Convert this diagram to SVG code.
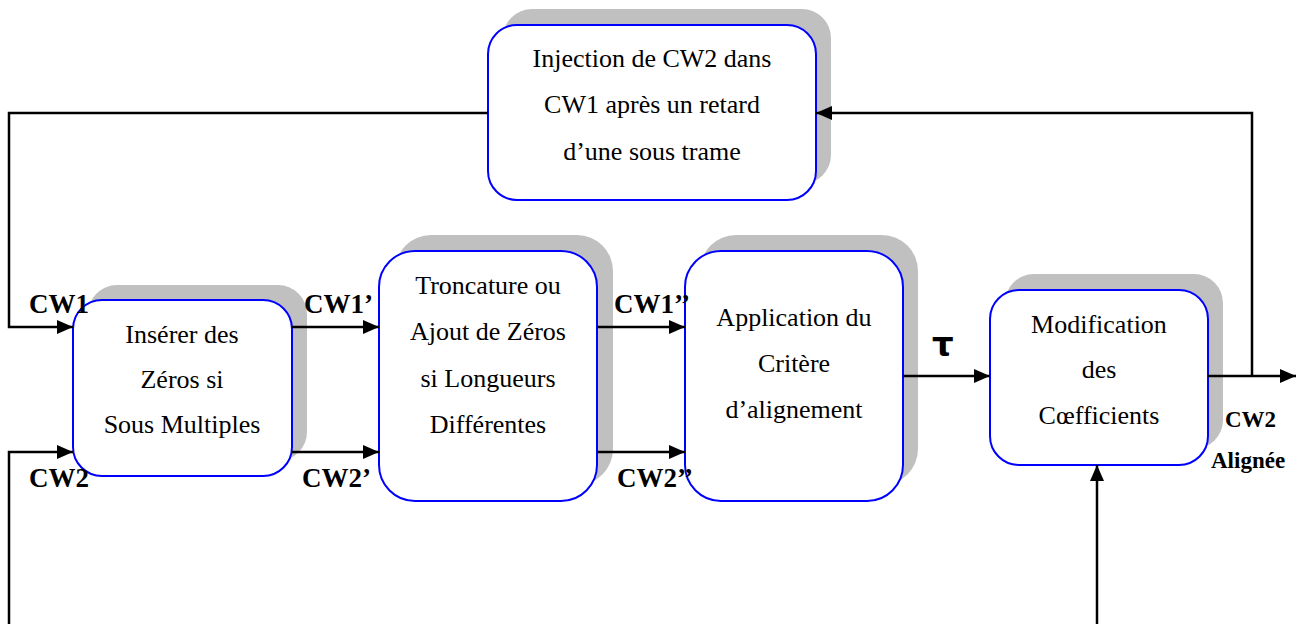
<svg xmlns="http://www.w3.org/2000/svg" width="1308" height="624" viewBox="0 0 1308 624">
  <style>
    .shadow { fill: #c0c0c0; stroke: none; }
    .box { fill: #ffffff; stroke: #0000ff; stroke-width: 2; }
    .label { font-family: "Liberation Serif", "Times New Roman", serif; font-size: 26px; fill: #000; text-anchor: middle; }
    .tag { font-family: "Liberation Serif", "Times New Roman", serif; font-size: 27px; font-weight: bold; fill: #000; }
    .tag-small { font-family: "Liberation Serif", "Times New Roman", serif; font-size: 23px; font-weight: bold; fill: #000; }
    .wire { fill: none; stroke: #000; stroke-width: 2.5; }
  </style>
  <defs>
    <marker id="arrow" viewBox="0 0 16 14" refX="16" refY="7" markerWidth="16" markerHeight="14" markerUnits="userSpaceOnUse" orient="auto">
      <path d="M0,0 L16,7 L0,14 Z" fill="#000"/>
    </marker>
  </defs>

  <!-- Injection block -->
  <g id="injection">
    <rect class="shadow" x="503" y="9" width="328" height="175" rx="29"/>
    <rect class="box" x="488" y="25" width="328" height="175" rx="29"/>
    <text class="label" x="652" y="67">Injection de CW2 dans</text>
    <text class="label" x="652" y="113">CW1 après un retard</text>
    <text class="label" x="652" y="160">d’une sous trame</text>
  </g>

  <!-- Zero insertion block -->
  <g id="inserer">
    <rect class="shadow" x="88" y="285" width="219" height="176" rx="29"/>
    <rect class="box" x="73" y="300" width="219" height="176" rx="29"/>
    <text class="label" x="182" y="343">Insérer des</text>
    <text class="label" x="182" y="388">Zéros si</text>
    <text class="label" x="182" y="433">Sous Multiples</text>
  </g>

  <!-- Truncation block -->
  <g id="troncature">
    <rect class="shadow" x="395" y="235" width="218" height="250" rx="36"/>
    <rect class="box" x="379" y="251" width="218" height="250" rx="36"/>
    <text class="label" x="488" y="294">Troncature ou</text>
    <text class="label" x="488" y="340">Ajout de Zéros</text>
    <text class="label" x="488" y="387">si Longueurs</text>
    <text class="label" x="488" y="433">Différentes</text>
  </g>

  <!-- Alignment criterion block -->
  <g id="critere">
    <rect class="shadow" x="700" y="235" width="218" height="250" rx="36"/>
    <rect class="box" x="685" y="251" width="218" height="250" rx="36"/>
    <text class="label" x="794" y="326">Application du</text>
    <text class="label" x="794" y="372">Critère</text>
    <text class="label" x="794" y="418">d’alignement</text>
  </g>

  <!-- Coefficient modification block -->
  <g id="modification">
    <rect class="shadow" x="1005" y="274" width="218" height="175" rx="29"/>
    <rect class="box" x="990" y="290" width="218" height="175" rx="29"/>
    <text class="label" x="1099" y="333">Modification</text>
    <text class="label" x="1099" y="378">des</text>
    <text class="label" x="1099" y="424">Cœfficients</text>
  </g>

  <!-- Connectors, drawn over the block shadows -->
  <g id="connectors">
    <!-- feedback from output to injection block -->
    <polyline class="wire" points="1252,376 1252,113 816,113" marker-end="url(#arrow)"/>
    <!-- injection block back to CW1 input -->
    <polyline class="wire" points="488,113 9,113 9,327 73,327" marker-end="url(#arrow)"/>
    <!-- CW2 input -->
    <polyline class="wire" points="9,624 9,452 73,452" marker-end="url(#arrow)"/>
    <line class="wire" x1="292" y1="327" x2="379" y2="327" marker-end="url(#arrow)"/>
    <line class="wire" x1="292" y1="452" x2="379" y2="452" marker-end="url(#arrow)"/>
    <line class="wire" x1="597" y1="327" x2="685" y2="327" marker-end="url(#arrow)"/>
    <line class="wire" x1="597" y1="452" x2="685" y2="452" marker-end="url(#arrow)"/>
    <line class="wire" x1="903" y1="376" x2="990" y2="376" marker-end="url(#arrow)"/>
    <line class="wire" x1="1208" y1="376" x2="1296" y2="376" marker-end="url(#arrow)"/>
    <line class="wire" x1="1097" y1="624" x2="1097" y2="465" marker-end="url(#arrow)"/>
  </g>

  <!-- Signal labels -->
  <g id="labels">
    <text class="tag" x="29" y="313">CW1</text>
    <text class="tag" x="304" y="313">CW1’</text>
    <text class="tag" x="614" y="313">CW1’’</text>
    <text class="tag" x="29" y="487">CW2</text>
    <text class="tag" x="302" y="487">CW2’</text>
    <text class="tag" x="617" y="487">CW2’’</text>
    <text x="932" y="356" font-family="'DejaVu Sans', sans-serif" font-size="34" font-weight="bold">τ</text>
    <text class="tag-small" x="1225" y="427">CW2</text>
    <text class="tag-small" x="1211" y="468">Alignée</text>
  </g>
</svg>
